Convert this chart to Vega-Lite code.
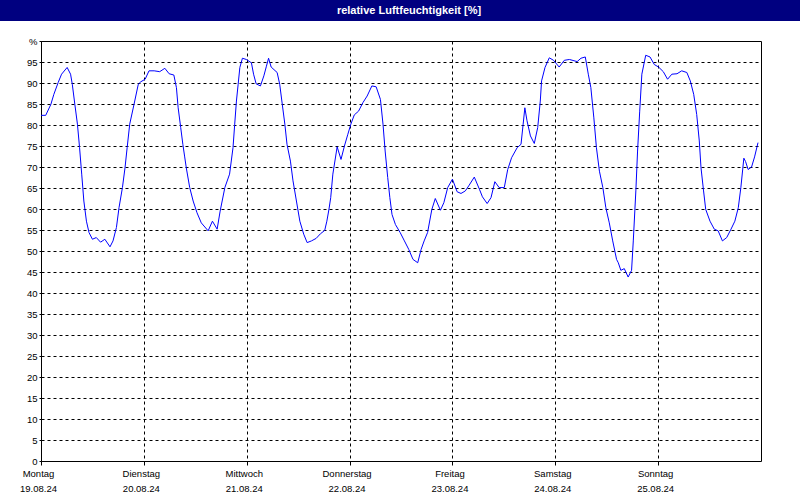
{
 "$schema": "https://vega.github.io/schema/vega-lite/v6.json",
 "padding": 0,
 "background": "white",
 "spacing": 14,
 "config": {"font": "Liberation Sans"},
 "vconcat": [
  {
   "width": 800, "height": 21,
   "view": {"fill": "#000080", "stroke": null},
   "data": {"values": [{"titel": "relative Luftfeuchtigkeit [%]"}]},
   "mark": {"type": "text", "color": "white", "fontWeight": "bold", "fontSize": 11, "font": "Liberation Sans", "dx": 9},
   "encoding": {"text": {"field": "titel"}}
  },
  {
   "spacing": 0,
   "hconcat": [
    {
     "width": 1, "height": 420,
     "view": {"stroke": null},
     "data": {"values": []},
     "mark": {"type": "text"},
     "encoding": {}
    },
    {
     "width": 720, "height": 420,
     "view": {"stroke": "black", "strokeWidth": 1, "fill": "white"},
     "data": {"values": [
      {"stunde":0.0,"rf":82.3},{"stunde":1.1,"rf":82.3},{"stunde":2.3,"rf":84.9},{"stunde":3.0,"rf":87.3},{"stunde":4.0,"rf":90.1},
      {"stunde":4.8,"rf":92.1},{"stunde":6.1,"rf":93.7},{"stunde":6.9,"rf":92.1},{"stunde":7.3,"rf":89.7},{"stunde":7.9,"rf":84.9},
      {"stunde":8.5,"rf":80.2},{"stunde":9.0,"rf":74.6},{"stunde":9.5,"rf":68.3},{"stunde":10.0,"rf":61.9},{"stunde":10.6,"rf":57.1},
      {"stunde":11.2,"rf":54.4},{"stunde":12.0,"rf":52.8},{"stunde":12.9,"rf":53.2},{"stunde":13.9,"rf":52.1},{"stunde":14.9,"rf":52.8},
      {"stunde":16.1,"rf":51.0},{"stunde":16.8,"rf":52.4},{"stunde":17.6,"rf":55.6},{"stunde":18.2,"rf":60.3},{"stunde":19.0,"rf":65.1},
      {"stunde":19.6,"rf":69.8},{"stunde":20.1,"rf":74.6},{"stunde":20.7,"rf":80.2},{"stunde":21.7,"rf":84.9},{"stunde":22.7,"rf":89.7},
      {"stunde":23.3,"rf":90.3},{"stunde":24.3,"rf":90.9},{"stunde":25.2,"rf":92.9},{"stunde":26.4,"rf":92.9},{"stunde":27.7,"rf":92.7},
      {"stunde":28.9,"rf":93.5},{"stunde":29.9,"rf":92.2},{"stunde":31.0,"rf":91.9},{"stunde":31.6,"rf":88.9},{"stunde":32.0,"rf":84.1},
      {"stunde":32.6,"rf":79.4},{"stunde":33.1,"rf":75.4},{"stunde":33.5,"rf":72.6},{"stunde":33.9,"rf":69.8},{"stunde":34.7,"rf":65.1},
      {"stunde":35.5,"rf":61.9},{"stunde":36.4,"rf":59.1},{"stunde":37.4,"rf":56.7},{"stunde":39.0,"rf":54.8},{"stunde":40.0,"rf":57.1},
      {"stunde":41.1,"rf":55.2},{"stunde":41.8,"rf":59.5},{"stunde":42.9,"rf":65.1},{"stunde":44.0,"rf":68.3},{"stunde":44.8,"rf":74.6},
      {"stunde":45.2,"rf":80.2},{"stunde":45.6,"rf":85.7},{"stunde":46.0,"rf":89.7},{"stunde":46.4,"rf":93.7},{"stunde":47.0,"rf":95.9},
      {"stunde":47.9,"rf":95.6},{"stunde":49.1,"rf":94.8},{"stunde":49.6,"rf":92.1},{"stunde":50.2,"rf":89.8},{"stunde":51.2,"rf":89.3},
      {"stunde":52.0,"rf":91.7},{"stunde":52.6,"rf":94.0},{"stunde":53.1,"rf":95.9},{"stunde":53.7,"rf":93.8},{"stunde":55.1,"rf":92.5},
      {"stunde":55.7,"rf":89.7},{"stunde":56.3,"rf":84.9},{"stunde":56.9,"rf":80.2},{"stunde":57.4,"rf":75.4},{"stunde":58.2,"rf":71.4},
      {"stunde":58.8,"rf":66.7},{"stunde":59.6,"rf":61.9},{"stunde":60.4,"rf":57.1},{"stunde":61.3,"rf":54.0},{"stunde":62.1,"rf":52.0},
      {"stunde":63.1,"rf":52.4},{"stunde":64.2,"rf":53.0},{"stunde":65.2,"rf":54.1},{"stunde":66.2,"rf":54.9},{"stunde":66.7,"rf":57.1},
      {"stunde":67.2,"rf":60.0},{"stunde":67.6,"rf":62.7},{"stunde":68.1,"rf":68.3},{"stunde":69.1,"rf":74.8},{"stunde":70.0,"rf":71.8},
      {"stunde":70.8,"rf":75.0},{"stunde":71.6,"rf":77.8},{"stunde":72.3,"rf":80.2},{"stunde":73.1,"rf":82.4},{"stunde":74.1,"rf":83.3},
      {"stunde":75.1,"rf":85.3},{"stunde":76.1,"rf":86.9},{"stunde":77.2,"rf":89.3},{"stunde":78.2,"rf":89.1},{"stunde":79.2,"rf":86.1},
      {"stunde":79.8,"rf":80.2},{"stunde":80.3,"rf":73.8},{"stunde":80.9,"rf":67.5},{"stunde":81.4,"rf":62.7},{"stunde":81.9,"rf":58.7},
      {"stunde":82.7,"rf":56.3},{"stunde":83.8,"rf":54.4},{"stunde":84.8,"rf":52.4},{"stunde":85.8,"rf":50.4},{"stunde":86.8,"rf":48.0},
      {"stunde":87.9,"rf":47.2},{"stunde":88.7,"rf":50.4},{"stunde":89.4,"rf":52.4},{"stunde":90.2,"rf":54.4},{"stunde":91.2,"rf":59.9},
      {"stunde":92.0,"rf":62.5},{"stunde":93.2,"rf":59.7},{"stunde":94.0,"rf":61.5},{"stunde":94.9,"rf":65.1},{"stunde":96.0,"rf":67.1},
      {"stunde":97.1,"rf":64.1},{"stunde":98.0,"rf":63.7},{"stunde":99.0,"rf":64.3},{"stunde":99.8,"rf":65.5},{"stunde":101.1,"rf":67.6},
      {"stunde":102.3,"rf":64.7},{"stunde":103.0,"rf":62.9},{"stunde":104.1,"rf":61.3},{"stunde":105.0,"rf":62.7},{"stunde":105.9,"rf":66.5},
      {"stunde":106.9,"rf":65.1},{"stunde":108.1,"rf":65.1},{"stunde":108.9,"rf":69.4},{"stunde":109.8,"rf":72.2},{"stunde":111.1,"rf":74.6},
      {"stunde":112.0,"rf":75.4},{"stunde":112.5,"rf":80.2},{"stunde":112.9,"rf":84.1},{"stunde":113.4,"rf":81.0},{"stunde":114.2,"rf":77.4},
      {"stunde":115.1,"rf":75.6},{"stunde":115.9,"rf":79.4},{"stunde":116.5,"rf":85.7},{"stunde":116.8,"rf":90.5},{"stunde":117.6,"rf":93.7},
      {"stunde":118.6,"rf":96.0},{"stunde":119.6,"rf":95.4},{"stunde":120.9,"rf":93.8},{"stunde":122.1,"rf":95.4},{"stunde":123.3,"rf":95.6},
      {"stunde":125.1,"rf":95.1},{"stunde":126.0,"rf":95.9},{"stunde":127.0,"rf":96.2},{"stunde":127.7,"rf":92.1},{"stunde":128.3,"rf":88.9},
      {"stunde":129.0,"rf":81.7},{"stunde":129.6,"rf":74.6},{"stunde":130.3,"rf":69.0},{"stunde":131.1,"rf":65.1},{"stunde":131.8,"rf":60.3},
      {"stunde":132.6,"rf":56.7},{"stunde":133.4,"rf":52.4},{"stunde":134.3,"rf":48.0},{"stunde":134.7,"rf":47.2},{"stunde":135.3,"rf":45.4},
      {"stunde":136.1,"rf":45.8},{"stunde":137.0,"rf":43.8},{"stunde":137.8,"rf":45.4},{"stunde":138.2,"rf":52.4},{"stunde":138.8,"rf":64.3},
      {"stunde":139.2,"rf":73.8},{"stunde":139.7,"rf":83.3},{"stunde":140.2,"rf":92.1},{"stunde":141.1,"rf":96.6},{"stunde":142.1,"rf":96.2},
      {"stunde":143.1,"rf":94.4},{"stunde":144.1,"rf":93.8},{"stunde":145.2,"rf":92.7},{"stunde":146.2,"rf":90.9},{"stunde":147.2,"rf":92.1},
      {"stunde":148.4,"rf":92.2},{"stunde":149.5,"rf":92.9},{"stunde":150.7,"rf":92.5},{"stunde":151.5,"rf":90.5},{"stunde":152.3,"rf":87.3},
      {"stunde":153.0,"rf":82.5},{"stunde":153.6,"rf":76.2},{"stunde":154.0,"rf":69.8},{"stunde":154.6,"rf":64.3},{"stunde":155.1,"rf":59.9},
      {"stunde":156.1,"rf":57.1},{"stunde":157.1,"rf":55.2},{"stunde":158.0,"rf":54.8},{"stunde":159.0,"rf":52.4},{"stunde":160.0,"rf":53.2},
      {"stunde":161.0,"rf":55.2},{"stunde":161.9,"rf":57.1},{"stunde":162.7,"rf":60.3},{"stunde":163.3,"rf":65.1},{"stunde":164.0,"rf":72.1},
      {"stunde":164.4,"rf":71.3},{"stunde":165.0,"rf":69.4},{"stunde":165.8,"rf":70.0},{"stunde":166.5,"rf":72.4},{"stunde":167.3,"rf":75.8}
     ]},
     "mark": {"type": "line", "color": "#0000ff", "strokeWidth": 1},
     "encoding": {
      "x": {
       "field": "stunde", "type": "quantitative",
       "scale": {"domain": [0, 168], "nice": false, "zero": false},
       "axis": {
        "title": null,
        "values": [0, 24, 48, 72, 96, 120, 144],
        "labelExpr": "[['Montag','19.08.24'],['Dienstag','20.08.24'],['Mittwoch','21.08.24'],['Donnerstag','22.08.24'],['Freitag','23.08.24'],['Samstag','24.08.24'],['Sonntag','25.08.24']][datum.value/24]",
        "grid": true, "gridColor": "black", "gridDash": [3, 3], "gridOpacity": 1, "gridWidth": 1,
        "domain": false, "ticks": true, "tickColor": "black", "tickSize": 4,
        "labelPadding": 3, "labelOffset": -3, "labelLineHeight": 15, "labelFontSize": 9.5, "labelColor": "black",
        "labelOverlap": false, "labelFlush": false, "labelBound": false
       }
      },
      "y": {
       "field": "rf", "type": "quantitative",
       "scale": {"domain": [0, 100], "nice": false, "zero": true},
       "axis": {
        "title": null,
        "values": [0, 5, 10, 15, 20, 25, 30, 35, 40, 45, 50, 55, 60, 65, 70, 75, 80, 85, 90, 95, 100],
        "labelExpr": "datum.value == 100 ? '%' : datum.label",
        "grid": true, "gridColor": "black", "gridDash": [3, 3], "gridOpacity": 1, "gridWidth": 1,
        "domain": false, "ticks": true, "tickColor": "black", "tickSize": 2,
        "labelPadding": 2, "labelFontSize": 9.5, "labelColor": "black",
        "labelOverlap": false, "minExtent": 39, "maxExtent": 39
       }
      }
     }
    }
   ]
  }
 ]
}
